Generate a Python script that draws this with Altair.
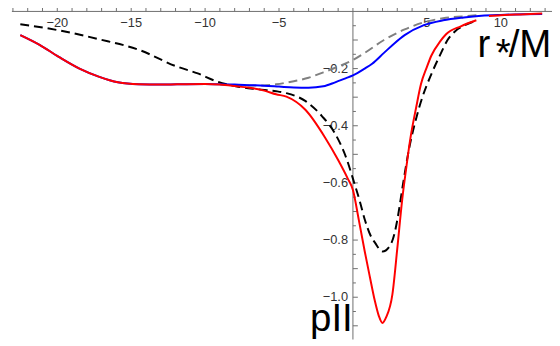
import altair as alt
import pandas as pd

# Plot window (data units) chosen so the axes cross where they do in the picture
X_MIN, X_MAX = -23.3333, 13.4667
Y_MIN, Y_MAX = -1.1621, 0.00345

red_x = [-22.5, -21.2, -19.9, -18.5, -17.2, -15.9, -14.5, -13.0, -11.9, -10.0, -9.0, -8.0,
         -7.0, -6.0, -5.2, -4.5, -3.2, -1.9, -1.0, -0.35, 0.0, 0.4, 0.8, 1.15, 1.47, 1.75,
         2.0, 2.25, 2.67, 3.0, 3.33, 3.6, 3.9, 4.3, 4.6, 5.0, 5.3, 5.9, 6.3, 7.3, 8.35]
red_y = [-0.083, -0.117, -0.159, -0.200, -0.228, -0.248, -0.255, -0.256, -0.255, -0.254, -0.256,
         -0.261, -0.267, -0.277, -0.290, -0.298, -0.345, -0.440, -0.520, -0.585, -0.625, -0.73,
         -0.84, -0.93, -1.01, -1.065, -1.09, -1.07, -0.99, -0.83, -0.66, -0.55, -0.44, -0.33,
         -0.255, -0.195, -0.155, -0.105, -0.08, -0.052, -0.031]
red2_x = [9.2, 10.0, 11.0, 12.0, 12.8]
red2_y = [-0.016, -0.013, -0.011, -0.009, -0.007]

blue_x = [-22.5, -21.2, -19.9, -18.5, -17.2, -15.9, -14.5, -13.0, -11.9, -10.0, -9.0, -8.0,
          -7.0, -6.0, -5.0, -4.0, -3.0, -2.0, -1.2, -0.5, 0.0, 0.8, 1.3, 2.1, 2.8, 3.5, 4.8,
          6.1, 7.5, 8.7, 10.0, 11.5, 12.8]
blue_y = [-0.083, -0.117, -0.159, -0.200, -0.228, -0.248, -0.255, -0.256, -0.255, -0.254,
          -0.255, -0.256, -0.258, -0.260, -0.263, -0.266, -0.267, -0.262, -0.248, -0.234,
          -0.224, -0.200, -0.183, -0.145, -0.112, -0.083, -0.048, -0.031, -0.021, -0.015,
          -0.012, -0.010, -0.009]

gray_x = [-9.0, -7.0, -6.0, -5.2, -4.0, -3.0, -2.0, -1.0, 0.0, 0.8, 2.1, 3.5, 4.8, 6.1, 7.5, 8.6]
gray_y = [-0.255, -0.259, -0.259, -0.255, -0.244, -0.232, -0.213, -0.193, -0.170, -0.145,
          -0.100, -0.063, -0.038, -0.024, -0.017, -0.012]

black_x = [-22.5, -19.9, -17.2, -14.5, -11.9, -10.5, -9.2, -7.9, -6.5, -5.2, -4.5, -3.2, -2.1,
           -1.2, -0.4, 0.0, 0.47, 0.8, 1.2, 1.5, 2.0, 2.5, 2.8, 3.0, 3.4, 3.8, 4.3, 4.7, 5.3,
           5.9, 6.4, 6.9, 7.5, 8.3]
black_y = [-0.045, -0.066, -0.097, -0.134, -0.193, -0.217, -0.245, -0.262, -0.272, -0.279,
           -0.286, -0.314, -0.366, -0.428, -0.520, -0.585, -0.665, -0.728, -0.785, -0.81,
           -0.84, -0.82, -0.78, -0.73, -0.60, -0.48, -0.37, -0.30, -0.22, -0.152, -0.10,
           -0.07, -0.05, -0.033]

x_tick_labels = [-20, -15, -10, -5, 5, 10]
y_tick_labels = [-0.2, -0.4, -0.6, -0.8, -1.0]
x_minor = [v for v in range(-23, 14) if v != 0]
y_minor = [round(-0.05 * k, 2) for k in range(1, 23)]

# axis titles, split into pieces so the star sits small and centred as in the picture
title_parts = ["r", "*", "/M", "pII"]

AX = "#6e6e6e"
LBL = "#333333"
FONT = "Liberation Sans"

xs = alt.Scale(domain=[X_MIN, X_MAX], nice=False, zero=False)
ys = alt.Scale(domain=[Y_MIN, Y_MAX], nice=False, zero=False)
X = lambda f="x": alt.X(f"{f}:Q", scale=xs, axis=None)
Y = lambda f="y": alt.Y(f"{f}:Q", scale=ys, axis=None)

# px per unit: 15 (x), 290 (y); data origin at page pixel (358, 9)
PX_X, PX_Y = 15.0, 290.0
px2x = lambda p: (p - 358) / PX_X
px2y = lambda p: -(p - 9) / PX_Y


def curve(xv, yv, color, dash=None):
    kw = dict(color=color, strokeWidth=2, interpolate="monotone", clip=True)
    if dash:
        kw["strokeDash"] = dash
    return alt.Chart(pd.DataFrame({"x": xv, "y": yv})).mark_line(**kw).encode(x=X(), y=Y())


# axes lines
axes_df = pd.DataFrame({
    "x": [-23.07, 0.0], "x2": [X_MAX, 0.0],
    "y": [0.0, 0.02], "y2": [0.0, -1.148],
})
axes = alt.Chart(axes_df).mark_rule(color=AX, strokeWidth=1).encode(
    x=X(), x2="x2:Q", y=Y(), y2="y2:Q")

xt_df = pd.DataFrame({
    "x": x_minor,
    "y": [0.0] * len(x_minor),
    "y2": [(6 if v % 5 == 0 else 4) / PX_Y for v in x_minor],
})
xticks = alt.Chart(xt_df).mark_rule(color=AX, strokeWidth=1).encode(
    x=X(), y=Y(), y2="y2:Q")

yt_df = pd.DataFrame({
    "y": y_minor,
    "x": [0.0] * len(y_minor),
    "x2": [(5 if abs(round(v * 10) - v * 10) < 1e-6 else 3) / PX_X for v in y_minor],
})
yticks = alt.Chart(yt_df).mark_rule(color=AX, strokeWidth=1).encode(
    x=X(), x2="x2:Q", y=Y())

xl_df = pd.DataFrame({
    "x": x_tick_labels,
    "y": [px2y(20.8)] * len(x_tick_labels),
    "t": [str(v).replace("-", "\u2212") for v in x_tick_labels],
})
xlabels = alt.Chart(xl_df).mark_text(
    align="center", baseline="middle", fontSize=13, font=FONT, color=LBL
).encode(x=X(), y=Y(), text="t:N")

yl_df = pd.DataFrame({
    "y": y_tick_labels,
    "x": [px2x(353)] * len(y_tick_labels),
    "t": [f"{v:.1f}".replace("-", "\u2212") for v in y_tick_labels],
})
ylabels = alt.Chart(yl_df).mark_text(
    align="right", baseline="middle", fontSize=13, font=FONT, color=LBL
).encode(x=X(), y=Y(), text="t:N")

big_df = pd.DataFrame({
    "x": [px2x(484.5), px2x(503), px2x(516), px2x(314.5)],
    "y": [px2y(55), px2y(64), px2y(55), px2y(333)],
    "t": title_parts,
})
big = alt.Chart(big_df).mark_text(
    align="left", baseline="alphabetic", fontSize=39, font=FONT, color="black"
).encode(x=X(), y=Y(), text="t:N")

chart = alt.layer(
    xlabels, ylabels, axes, xticks, yticks,
    curve(gray_x, gray_y, "#808080", [9, 5]),
    curve(black_x, black_y, "black", [9, 5]),
    curve(blue_x, blue_y, "#0000ff"),
    curve(red_x, red_y, "#ff0000"),
    curve(red2_x, red2_y, "#ff0000"),
    big,
).properties(
    width=552, height=338, padding=0, autosize=alt.AutoSizeParams(type="none")
).configure_view(stroke=None)

chart.save("out.html", embed_options={"renderer": "svg", "actions": False})
